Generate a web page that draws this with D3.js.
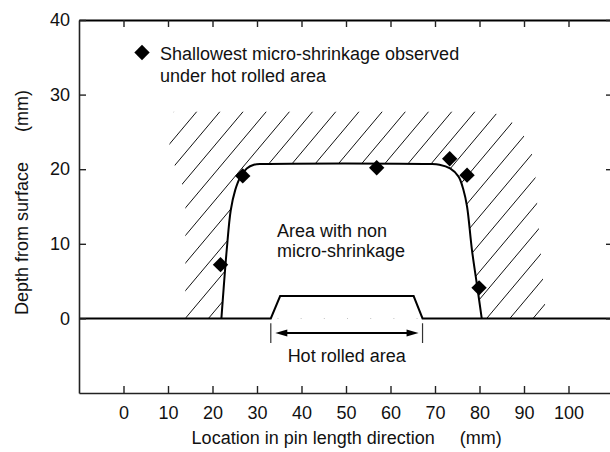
<!DOCTYPE html>
<html>
<head>
<meta charset="utf-8">
<script src="https://cdn.jsdelivr.net/npm/d3@7"></script>
<style>
  html, body { margin: 0; padding: 0; background: #fff; }
  svg { display: block; }
  text { font-family: "Liberation Sans", Arial, sans-serif; fill: #111; }
</style>
</head>
<body>
<svg id="chart" width="610" height="452"></svg>
<script>
// ---------------- data ----------------
const xTicks = [0, 10, 20, 30, 40, 50, 60, 70, 80, 90, 100];
const yTicks = [0, 10, 20, 30, 40];
const xDomain = [-10, 110];
const yDomain = [-10, 40];

// shallowest micro-shrinkage observed [location mm, depth mm]
const shallowestX = [21.8, 26.8, 56.9, 73.3, 77.2, 79.9];
const shallowestY = [7.2, 19.1, 20.2, 21.4, 19.2, 4.1];

// boundary of area with non micro-shrinkage
const boundaryX = [22.0, 22.5, 23.2, 24.1, 25.1, 26.2, 27.7, 29.3, 31.5, 68.5, 71.0, 73.4, 75.3, 76.4, 77.2, 78.3, 79.6, 80.5];
const boundaryY = [0, 4.0, 9.2, 14.5, 17.2, 18.9, 20.1, 20.6, 20.7, 20.7, 20.6, 20.1, 19.0, 17.2, 15.0, 9.2, 3.8, 0];

// surface profile with hot rolled area
const surfaceX = [-10, 33.1, 35.2, 65.2, 67.2, 110];
const surfaceY = [0, 0, 3.0, 3.0, 0, 0];
const hotRolledRange = [33.1, 67.2];
const hotRolledArrowDepth = -1.9;

// outer envelope of hatched (micro-shrinkage) area
const hatchX = [11.3, 80.0, 84.0, 87.3, 89.9, 91.8, 92.6, 93.0, 93.4, 94.0, 94.8, 95.0, 13.9, 13.9, 13.3, 11.5, 10.3];
const hatchY = [27.7, 27.7, 27.4, 26.3, 24.6, 22.0, 18.8, 15.0, 11.5, 7.0, 1.5, 0, 0, 15.5, 17.8, 20.5, 23.3];
const hatchStart = 19.1;   // baseline crossing of one hatch line (mm)
const hatchStep = 5.21;    // spacing along location (mm)
const hatchSlope = 0.71;   // depth per mm

const legendText = ["Shallowest micro-shrinkage observed", "under hot rolled area"];
const areaText = ["Area with non", "micro-shrinkage"];
const hotRolledLabel = "Hot rolled area";
const xTitle = "Location in pin length direction     (mm)";
const yTitle = "Depth from surface      (mm)";

// ---------------- drawing ----------------
const svg = d3.select("#chart");
const x = d3.scaleLinear().domain(xDomain).range([79, 613]);
const y = d3.scaleLinear().domain(yDomain).range([393, 20]);
const FS = 18;

const zip = (a, b) => a.map((v, i) => [v, b[i]]);
const lin = d3.line().x(d => x(d[0])).y(d => y(d[1]));

// clip for hatch
svg.append("defs").append("clipPath").attr("id", "hclip")
  .append("path").attr("d", lin(zip(hatchX, hatchY)) + "Z");

const hatchG = svg.append("g").attr("clip-path", "url(#hclip)");
for (let k = -10; k <= 16; k++) {
  const c = hatchStart + k * hatchStep;
  const d0 = -1, d1 = 30;
  hatchG.append("line")
    .attr("x1", x(c + d0 / hatchSlope)).attr("y1", y(d0))
    .attr("x2", x(c + d1 / hatchSlope)).attr("y2", y(d1))
    .attr("stroke", "#111").attr("stroke-width", 1);
}

// boundary curve (white inside)
const curve = d3.line().x(d => x(d[0])).y(d => y(d[1])).curve(d3.curveCatmullRom.alpha(0.5));
const bpts = zip(boundaryX, boundaryY);
svg.append("path").attr("d", curve(bpts) + "Z").attr("fill", "#fff").attr("stroke", "none");
svg.append("path").attr("d", curve(bpts)).attr("fill", "none").attr("stroke", "#000").attr("stroke-width", 2);

// surface line
svg.append("path").attr("d", lin(zip(surfaceX, surfaceY)))
  .attr("fill", "none").attr("stroke", "#000").attr("stroke-width", 2).attr("stroke-linejoin", "miter");

// axes
const axStyle = g => {
  g.select(".domain").attr("stroke", "#222").attr("stroke-width", 1.6);
  g.selectAll(".tick line").attr("stroke", "#222").attr("stroke-width", 1.4);
  g.selectAll("text").attr("font-size", FS).attr("font-family", "Liberation Sans, Arial, sans-serif").attr("fill", "#111");
};
svg.append("g").attr("transform", `translate(0,${y(yDomain[0])})`)
  .call(d3.axisBottom(x).tickValues(xTicks).tickSizeInner(-7).tickSizeOuter(0).tickPadding(13))
  .call(axStyle);
svg.append("g").attr("transform", `translate(0,${y(yDomain[1])})`)
  .call(d3.axisTop(x).tickValues(xTicks).tickSizeInner(-7).tickSizeOuter(0).tickFormat(""))
  .call(axStyle).call(g => g.select(".domain").attr("stroke", "#000").attr("stroke-width", 2));
svg.append("g").attr("transform", `translate(${x(xDomain[0])},0)`)
  .call(d3.axisLeft(y).tickValues(yTicks).tickSizeInner(-7).tickSizeOuter(0).tickPadding(9))
  .call(axStyle);
svg.append("g").attr("transform", `translate(${x(xDomain[1])},0)`)
  .call(d3.axisRight(y).tickValues(yTicks).tickSizeInner(-7).tickSizeOuter(0).tickFormat(""))
  .call(axStyle);

// hot rolled arrow
const ay = Math.round(y(hotRolledArrowDepth));
hotRolledRange.forEach(v => {
  svg.append("line").attr("x1", x(v)).attr("x2", x(v))
    .attr("y1", y(-0.65)).attr("y2", y(-3.3))
    .attr("stroke", "#333").attr("stroke-width", 1.2);
});
const xl = x(hotRolledRange[0]) + 4.5, xr = x(hotRolledRange[1]) - 4;
svg.append("line").attr("x1", xl + 6).attr("x2", xr - 6).attr("y1", ay).attr("y2", ay)
  .attr("stroke", "#000").attr("stroke-width", 2);
svg.append("path").attr("d", `M${xl},${ay}L${xl + 12},${ay - 3.5}L${xl + 12},${ay + 3.5}Z`).attr("fill", "#000");
svg.append("path").attr("d", `M${xr},${ay}L${xr - 12},${ay - 3.5}L${xr - 12},${ay + 3.5}Z`).attr("fill", "#000");
svg.append("text").attr("x", x(d3.mean(hotRolledRange))).attr("y", 362)
  .attr("text-anchor", "middle").attr("font-size", FS).text(hotRolledLabel);

// area label
svg.append("text").attr("x", 277).attr("y", 237).attr("font-size", FS)
  .selectAll("tspan").data(areaText).join("tspan")
  .attr("x", 277).attr("dy", (d, i) => i ? 20 : 0).text(d => d);

// markers
const diamond = d3.symbol().type(d3.symbolSquare).size(118);
svg.append("g").selectAll("path").data(zip(shallowestX, shallowestY)).join("path")
  .attr("d", diamond)
  .attr("transform", d => `translate(${x(d[0])},${y(d[1])}) rotate(45)`)
  .attr("fill", "#000");

// legend
svg.append("path").attr("d", diamond).attr("transform", `translate(142,52.5) rotate(45)`).attr("fill", "#000");
svg.append("text").attr("font-size", FS)
  .selectAll("tspan").data(legendText).join("tspan")
  .attr("x", 160).attr("y", (d, i) => 59.5 + i * 22.3).text(d => d);

// axis titles
svg.append("text").attr("x", 346.7).attr("y", 443.5).attr("text-anchor", "middle")
  .attr("font-size", FS).attr("xml:space", "preserve").style("white-space", "pre").text(xTitle);
svg.append("text").attr("transform", "translate(28,202.5) rotate(-90)").attr("text-anchor", "middle")
  .attr("font-size", FS).attr("xml:space", "preserve").style("white-space", "pre").text(yTitle);
</script>
</body>
</html>
